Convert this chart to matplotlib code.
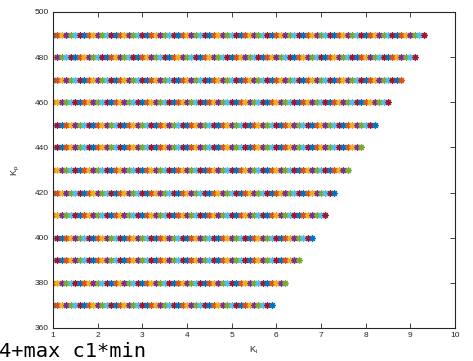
import numpy as np
import matplotlib
matplotlib.use("Agg")
import matplotlib.pyplot as plt

# Stable (Kp, Ki) grid: one row per Kp, Ki swept from 1 in steps of 0.1
kp_values = [370, 380, 390, 400, 410, 420, 430, 440, 450, 460, 470, 480, 490]
ki_max = [5.9, 6.2, 6.5, 6.8, 7.1, 7.3, 7.6, 7.9, 8.2, 8.5, 8.8, 9.1, 9.3]
ki_start = 1.0
ki_step = 0.1

x_ticks = list(range(1, 11))
y_ticks = list(range(360, 501, 20))

colors = ["#0072BD", "#D95319", "#EDB120", "#7E2F8E",
          "#77AC30", "#4DBEEE", "#A2142F"]

fig = plt.figure(figsize=(4.73, 3.61), dpi=100)
ax = fig.add_axes([53 / 473, 33 / 361, 402 / 473, 316 / 361])

k = 0
for kp, kmax in zip(kp_values, ki_max):
    n = int(round((kmax - ki_start) / ki_step)) + 1
    for i in range(n):
        ki = ki_start + i * ki_step
        ax.plot(ki, kp, linestyle="none", marker=(8, 2, 0), markersize=4.8,
                markeredgewidth=0.85, color=colors[k % len(colors)])
        k += 1

ax.set_xlim(1, 10)
ax.set_ylim(360, 500)
ax.set_xticks(x_ticks)
ax.set_yticks(y_ticks)

axis_col = "#262626"
for s in ax.spines.values():
    s.set_color(axis_col)
    s.set_linewidth(0.8)
ax.tick_params(direction="in", length=3.5, width=0.6, colors=axis_col,
               labelsize=6, top=True, right=True, pad=3)
for lab in ax.get_xticklabels() + ax.get_yticklabels():
    lab.set_family("Liberation Sans")

ax.set_xlabel("K$_\\mathregular{i}$", fontsize=6.5, family="Liberation Sans",
              color=axis_col, labelpad=4)
ax.set_ylabel("K$_\\mathregular{p}$", fontsize=6.5, family="Liberation Sans",
              color=axis_col, labelpad=9)

fig.text(-1 / 473, 4 / 361, "4+max c1*min", family="DejaVu Sans Mono",
         fontsize=14.7, color="black", ha="left", va="baseline")

fig.savefig("out.png", dpi=100)
